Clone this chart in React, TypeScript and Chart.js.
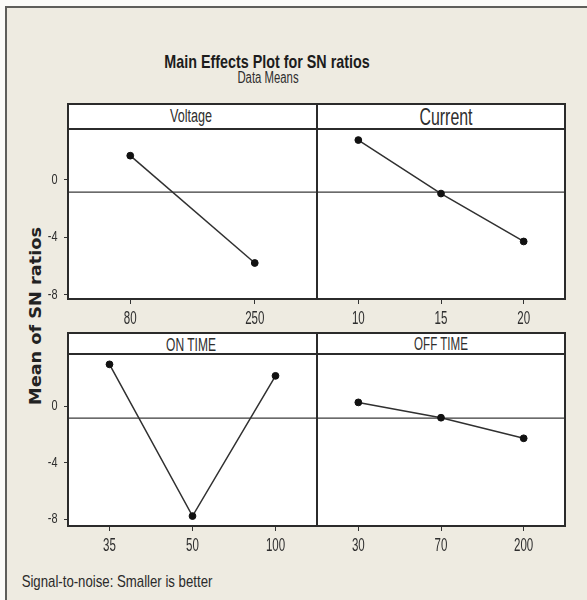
import React, { useEffect, useLayoutEffect, useRef, useState } from "react";
import { Chart, registerables } from "chart.js";

Chart.register(...registerables);

// ---- data ----
const voltageLevels = ["80", "250"];
const voltageMeans = [1.69, -5.79];
const currentLevels = ["10", "15", "20"];
const currentMeans = [2.78, -0.95, -4.29];
const onTimeLevels = ["35", "50", "100"];
const onTimeMeans = [2.94, -7.75, 2.13];
const offTimeLevels = ["30", "70", "200"];
const offTimeMeans = [0.26, -0.82, -2.27];
const grandMean = -0.85;
const yTickValues = [-8, -4, 0];

const SANS = "'Liberation Sans', Arial, sans-serif";
const TEXT = "#2e2e2e";
const LINE = "#2b2b2b";

const framePlugin = {
  id: "panelFrame",
  beforeDraw(chart: any) {
    const { ctx, chartArea } = chart;
    const { left, right, top, bottom } = chartArea;
    ctx.save();
    ctx.fillStyle = "#ffffff";
    ctx.fillRect(left, top, right - left, bottom - top);
    ctx.restore();
  },
  beforeDatasetsDraw(chart: any) {
    const { ctx, chartArea, scales } = chart;
    const yy = scales.y.getPixelForValue(grandMean);
    ctx.save();
    ctx.strokeStyle = "#3a3a3a";
    ctx.lineWidth = 1.3;
    ctx.beginPath();
    ctx.moveTo(chartArea.left, yy);
    ctx.lineTo(chartArea.right, yy);
    ctx.stroke();
    ctx.restore();
  },
  afterDraw(chart: any) {
    const { ctx, chartArea, scales } = chart;
    const { left, right, top, bottom } = chartArea;
    ctx.save();
    ctx.strokeStyle = LINE;
    ctx.lineWidth = 2;
    ctx.strokeRect(left, top, right - left, bottom - top);
    ctx.restore();

    // condensed tick labels, placed by the chart's own scales
    ctx.save();
    ctx.fillStyle = TEXT;
    ctx.textBaseline = "middle";
    const xs = scales.x;
    ctx.font = "18px " + SANS;
    ctx.textAlign = "center";
    xs.ticks.forEach((t: any, i: number) => {
      const px = xs.getPixelForTick(i);
      const label = String(xs.getLabelForValue(t.value));
      ctx.save();
      ctx.translate(px, bottom + 20);
      ctx.scale(0.64, 1);
      ctx.fillText(label, 0, 0);
      ctx.restore();
    });
    const ys = scales.y;
    if (ys.options.display) {
      ctx.font = "14px " + SANS;
      ctx.textAlign = "right";
      ys.ticks.forEach((t: any) => {
        const py = ys.getPixelForValue(t.value);
        ctx.save();
        ctx.translate(left - 10.5, py);
        ctx.scale(0.78, 1);
        ctx.fillText(String(t.value), 0, 0);
        ctx.restore();
      });
    }
    ctx.restore();
  },
};

type PanelProps = {
  labels: string[];
  values: number[];
  yMin: number;
  yMax: number;
  showY: boolean;
  left: number;
  top: number;
  width: number;
  height: number;
};

function Panel({ labels, values, yMin, yMax, showY, left, top, width, height }: PanelProps) {
  const ref = useRef<HTMLCanvasElement | null>(null);
  useEffect(() => {
    if (!ref.current) return;
    const chart = new Chart(ref.current, {
      type: "line",
      data: {
        labels,
        datasets: [
          {
            data: values,
            borderColor: "#303030",
            borderWidth: 1.5,
            pointRadius: 3.4,
            pointBackgroundColor: "#111",
            pointBorderColor: "#111",
            pointBorderWidth: 1,
            tension: 0,
            clip: false as any,
          },
        ],
      },
      options: {
        animation: false,
        responsive: false,
        maintainAspectRatio: false,
        devicePixelRatio: 1,
        layout: { autoPadding: false, padding: { top: 2, right: 2, left: showY ? 0 : 2, bottom: 0 } } as any,
        plugins: { legend: { display: false }, tooltip: { enabled: false }, title: { display: false } },
        scales: {
          x: {
            type: "category",
            offset: true,
            grid: { display: true, drawOnChartArea: false, drawTicks: true, tickLength: 5, color: "#333", lineWidth: 1, offset: false },
            border: { display: false },
            ticks: { display: false, autoSkip: false },
            afterFit: (s: any) => {
              s.height = 30;
            },
          },
          y: {
            type: "linear",
            display: showY,
            min: yMin,
            max: yMax,
            grid: { display: true, drawOnChartArea: false, drawTicks: true, tickLength: 4, color: "#333", lineWidth: 1 },
            border: { display: false },
            ticks: { display: false },
            afterBuildTicks: (s: any) => {
              s.ticks = yTickValues.map((v) => ({ value: v }));
            },
            afterFit: (s: any) => {
              if (showY) s.width = 36;
            },
          },
        },
      },
      plugins: [framePlugin],
    });
    return () => chart.destroy();
  }, []);
  return (
    <canvas
      ref={ref}
      width={width}
      height={height}
      style={{ position: "absolute", left, top, width, height }}
    />
  );
}

// text squeezed horizontally to the measured width of the original's condensed lettering
function FitText({ text, cx, cy, width, size, bold, family, rotate, color }: { text: string; cx: number; cy: number; width: number; size: number; bold?: boolean; family?: string; rotate?: boolean; color?: string }) {
  const ref = useRef<HTMLSpanElement | null>(null);
  const [sx, setSx] = useState(1);
  useLayoutEffect(() => {
    if (ref.current) {
      const w = ref.current.offsetWidth;
      if (w > 0) setSx(width / w);
    }
  }, []);
  return (
    <span
      ref={ref}
      style={{
        position: "absolute",
        left: cx,
        top: cy,
        whiteSpace: "nowrap",
        fontFamily: family || SANS,
        fontWeight: bold ? "bold" : "normal",
        fontSize: size,
        lineHeight: 1,
        color: color || TEXT,
        transformOrigin: "center center",
        transform: `translate(-50%, -50%) ${rotate ? "rotate(-90deg)" : ""} scaleX(${sx})`,
      }}
    >
      {text}
    </span>
  );
}

function StripBox({ left, top, width, height }: { left: number; top: number; width: number; height: number }) {
  return (
    <div
      style={{
        position: "absolute",
        left,
        top,
        width,
        height,
        boxSizing: "border-box",
        border: "2px solid " + LINE,
        background: "#fff",
      }}
    />
  );
}

export default function App() {
  const PL = 68;
  const PM = 317;
  const PR = 565;
  const rows = [
    { stripTop: 104, plotTop: 129, plotBottom: 299, yMin: -8.3, yMax: 3.55 },
    { stripTop: 333, plotTop: 354, plotBottom: 526, yMin: -8.45, yMax: 3.67 },
  ];
  const leftCanvas = (r: any) => ({ left: PL - 36, top: r.plotTop - 2, width: PM + 2 - (PL - 36), height: r.plotBottom - r.plotTop + 2 + 30 });
  const rightCanvas = (r: any) => ({ left: PM - 2, top: r.plotTop - 2, width: PR + 2 - (PM - 2), height: r.plotBottom - r.plotTop + 2 + 30 });

  return (
    <div style={{ position: "absolute", left: 0, top: 0, width: 587, height: 600, background: "#fbfbf8", overflow: "hidden" }}>
      <div
        style={{
          position: "absolute",
          left: 5,
          top: 6,
          width: 590,
          height: 600,
          background: "#eeebe1",
          borderTop: "2px solid #5e5e5a",
          borderLeft: "2px solid #5e5e5a",
        }}
      />
      <FitText text="Main Effects Plot for SN ratios" cx={267} cy={60.5} width={205} size={19} bold color="#1c1c1c" />
      <FitText text="Data Means" cx={267.5} cy={77.5} width={61} size={16} />
      <FitText text="Mean of SN ratios" cx={36} cy={316} width={178} size={16} bold rotate family="'DejaVu Sans', Verdana, sans-serif" color="#222" />

      <StripBox left={PL - 1} top={rows[0].stripTop - 1} width={PM - PL + 2} height={rows[0].plotTop - rows[0].stripTop + 2} />
      <StripBox left={PM - 1} top={rows[0].stripTop - 1} width={PR - PM + 2} height={rows[0].plotTop - rows[0].stripTop + 2} />
      <StripBox left={PL - 1} top={rows[1].stripTop - 1} width={PM - PL + 2} height={rows[1].plotTop - rows[1].stripTop + 2} />
      <StripBox left={PM - 1} top={rows[1].stripTop - 1} width={PR - PM + 2} height={rows[1].plotTop - rows[1].stripTop + 2} />
      <FitText text="Voltage" cx={191} cy={115.5} width={42} size={18} />
      <FitText text="Current" cx={446} cy={116.5} width={53} size={24} />
      <FitText text="ON TIME" cx={191} cy={344.5} width={50} size={18} />
      <FitText text="OFF TIME" cx={441} cy={344} width={54} size={18} />

      <Panel labels={voltageLevels} values={voltageMeans} yMin={rows[0].yMin} yMax={rows[0].yMax} showY={true} {...leftCanvas(rows[0])} />
      <Panel labels={currentLevels} values={currentMeans} yMin={rows[0].yMin} yMax={rows[0].yMax} showY={false} {...rightCanvas(rows[0])} />
      <Panel labels={onTimeLevels} values={onTimeMeans} yMin={rows[1].yMin} yMax={rows[1].yMax} showY={true} {...leftCanvas(rows[1])} />
      <Panel labels={offTimeLevels} values={offTimeMeans} yMin={rows[1].yMin} yMax={rows[1].yMax} showY={false} {...rightCanvas(rows[1])} />

      <FitText text="Signal-to-noise: Smaller is better" cx={21 + 191 / 2} cy={581} width={191} size={17} color="#2a2a2a" />
    </div>
  );
}
